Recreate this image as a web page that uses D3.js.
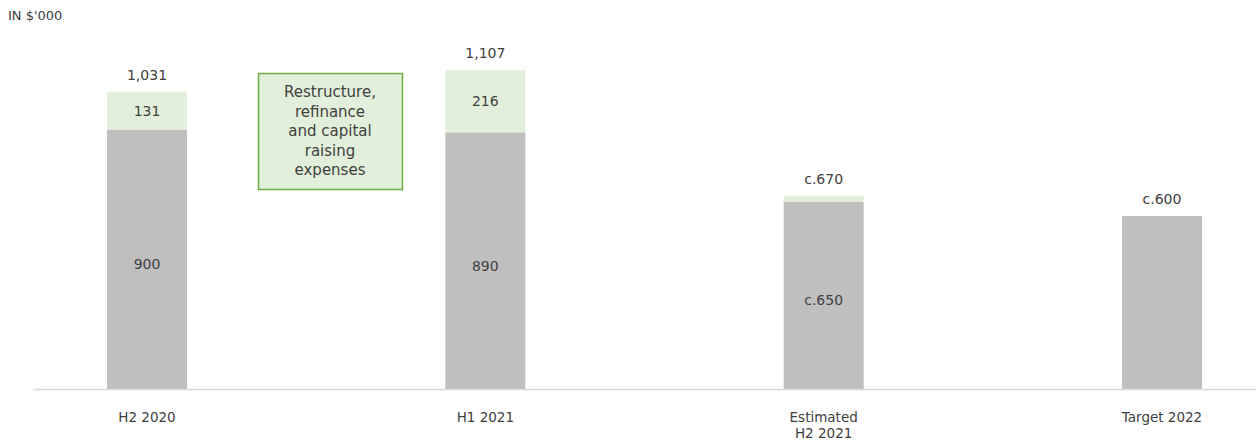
<!DOCTYPE html>
<html>
<head>
<meta charset="utf-8">
<script src="https://cdn.jsdelivr.net/npm/d3@7/dist/d3.min.js"></script>
<style>
  html, body { margin: 0; padding: 0; background: #ffffff; }
  svg { display: block; font-family: "DejaVu Sans", "Noto Sans", sans-serif; }
</style>
</head>
<body>
<svg id="chart" width="1256" height="447"></svg>
<script>
// ---- data ----
const categories = ["H2 2020", "H1 2021", "Estimated H2 2021", "Target 2022"];
const categoryLines = [["H2 2020"], ["H1 2021"], ["Estimated", "H2 2021"], ["Target 2022"]];
const baseValues = [900, 890, 650, 600];
const expenseValues = [131, 216, 20, 0];
const totalLabels = ["1,031", "1,107", "c.670", "c.600"];
const baseLabels = ["900", "890", "c.650", ""];
const expenseLabels = ["131", "216", "", ""];
const unitLabel = "IN $'000";
const noteLines = ["Restructure,", "refinance", "and capital", "raising", "expenses"];

// ---- layout ----
const W = 1256, H = 447;
const baseY = 389;
const svg = d3.select("#chart");

const x = d3.scaleBand()
  .domain(categories)
  .range([33, 1276])
  .paddingInner(0.7635)
  .paddingOuter(0.2187);

const y = d3.scaleLinear().domain([0, 1200]).range([baseY, 43]);

const textColor = "#404040";
const grey = "#bfbfbf";
const lightGreen = "#e2efda";

// unit label
svg.append("text")
  .attr("x", 8).attr("y", 20)
  .attr("font-size", 13).attr("fill", textColor)
  .text(unitLabel);

// stacked data
const rows = categories.map((c, i) => ({
  cat: c, base: baseValues[i], exp: expenseValues[i],
  total: baseValues[i] + expenseValues[i],
  tl: totalLabels[i], bl: baseLabels[i], el: expenseLabels[i], lines: categoryLines[i]
}));

const g = svg.append("g");

// base bars
g.selectAll(".base").data(rows).join("rect")
  .attr("class", "base")
  .attr("x", d => x(d.cat))
  .attr("width", x.bandwidth())
  .attr("y", d => y(d.base))
  .attr("height", d => y(0) - y(d.base))
  .attr("fill", grey);

// expense bars
g.selectAll(".exp").data(rows.filter(d => d.exp > 0)).join("rect")
  .attr("class", "exp")
  .attr("x", d => x(d.cat))
  .attr("width", x.bandwidth())
  .attr("y", d => y(d.total))
  .attr("height", d => y(d.base) - y(d.total))
  .attr("fill", lightGreen);

// base labels
g.selectAll(".bl").data(rows.filter(d => d.bl)).join("text")
  .attr("x", d => x(d.cat) + x.bandwidth() / 2)
  .attr("y", d => (y(0) + y(d.base)) / 2 + 10)
  .attr("text-anchor", "middle")
  .attr("font-size", 14).attr("fill", textColor)
  .text(d => d.bl);

// expense labels
g.selectAll(".el").data(rows.filter(d => d.el)).join("text")
  .attr("x", d => x(d.cat) + x.bandwidth() / 2)
  .attr("y", d => (y(d.base) + y(d.total)) / 2 + 5)
  .attr("text-anchor", "middle")
  .attr("font-size", 14).attr("fill", textColor)
  .text(d => d.el);

// total labels
g.selectAll(".tl").data(rows).join("text")
  .attr("x", d => x(d.cat) + x.bandwidth() / 2)
  .attr("y", d => y(d.total) - 12)
  .attr("text-anchor", "middle")
  .attr("font-size", 14).attr("fill", textColor)
  .text(d => d.tl);

// axis baseline
svg.append("line")
  .attr("x1", 33).attr("x2", W)
  .attr("y1", baseY + 0.5).attr("y2", baseY + 0.5)
  .attr("stroke", "#d9d9d9").attr("stroke-width", 1.5);

// category labels
const cl = svg.selectAll(".cl").data(rows).join("text")
  .attr("x", d => x(d.cat) + x.bandwidth() / 2)
  .attr("y", 422)
  .attr("text-anchor", "middle")
  .attr("font-size", 13.5).attr("fill", textColor);
cl.selectAll("tspan").data(d => d.lines.map(l => ({ l, cx: x(d.cat) + x.bandwidth() / 2 }))).join("tspan")
  .attr("x", t => t.cx)
  .attr("dy", (t, i) => i === 0 ? 0 : 16)
  .text(t => t.l);

// note box
const note = svg.append("g");
note.append("rect")
  .attr("x", 258.5).attr("y", 73.5)
  .attr("width", 144).attr("height", 116)
  .attr("fill", lightGreen)
  .attr("stroke", "#70ad47").attr("stroke-width", 1.5);
note.selectAll("text").data(noteLines).join("text")
  .attr("x", 330)
  .attr("y", (d, i) => 97 + i * 19.5)
  .attr("text-anchor", "middle")
  .attr("font-size", 15).attr("fill", textColor)
  .text(d => d);
</script>
</body>
</html>
